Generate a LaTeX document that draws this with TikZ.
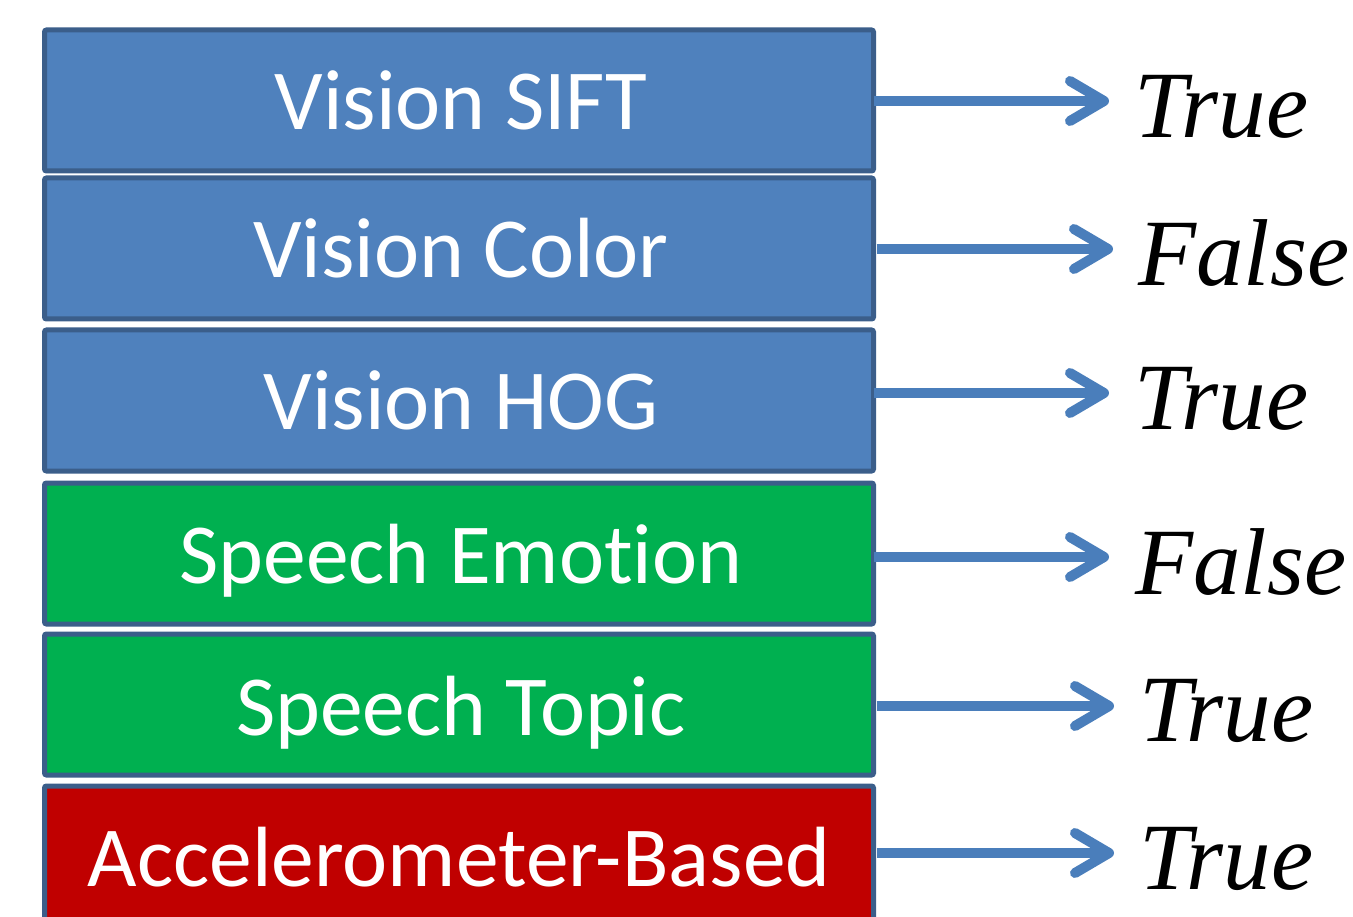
\documentclass[tikz,border=0pt]{standalone}
\usepackage{fontspec}
\setmainfont{Liberation Serif}
\newfontfamily\boxfont[Ligatures={NoCommon}]{Carlito}
\usetikzlibrary{arrows.meta}
\definecolor{visionblue}{HTML}{4F81BD}
\definecolor{speechgreen}{HTML}{00B050}
\definecolor{accelred}{HTML}{C00000}
\definecolor{boxedge}{HTML}{3B5E8A}
\definecolor{arrowblue}{HTML}{4A7EBB}
\tikzset{
  module/.style={draw=boxedge, line width=5pt, rounded corners=2pt,
    minimum width=829pt, minimum height=141pt, inner sep=0pt, outer sep=0pt},
  modtext/.style={text=white, font=\boxfont\fontsize{85.5}{85.5}\selectfont, anchor=base},
  verdict/.style={font=\itshape\fontsize{95}{95}\selectfont, anchor=base west, inner sep=0pt},
  outarrow/.style={draw=arrowblue, line width=10pt,
    -{Straight Barb[length=34pt, width=40pt, round]}},
}
\begin{document}
\begin{tikzpicture}[x=1pt, y=-1pt]
\useasboundingbox (0,0) rectangle (1353,917);
% stacked classifier boxes (centre y of each box)
\node[module, fill=visionblue]  (b1) at (459,100.5) {};
\node[module, fill=visionblue]  (b2) at (459,248.5) {};
\node[module, fill=visionblue]  (b3) at (459,400.5) {};
\node[module, fill=speechgreen] (b4) at (459,553.5) {};
\node[module, fill=speechgreen] (b5) at (459,704.5) {};
\node[module, fill=accelred]    (b6) at (459,856.5) {};
% box captions
\node[modtext] (c1) at (461,130) {Vision SIFT};
\node[modtext] (c2) at (461,278) {Vision Color};
\node[modtext] (c3) at (461,430) {Vision HOG};
\node[modtext] (c4) at (461,583) {Speech Emotion};
\node[modtext] (c5) at (461,735) {Speech Topic};
\node[modtext] (c6) at (459,886) {Accelerometer-Based};
% outputs
\node[verdict] (v1) at (1134,138) {True};
\node[verdict] (v2) at (1138,286) {False};
\node[verdict] (v3) at (1134,430) {True};
\node[verdict] (v4) at (1135,594) {False};
\node[verdict] (v5) at (1139,741) {True};
\node[verdict] (v6) at (1139,889) {True};
% arrow tips
\coordinate (a1) at (1109,101);
\coordinate (a2) at (1113,249);
\coordinate (a3) at (1109,393);
\coordinate (a4) at (1109,557);
\coordinate (a5) at (1114,706);
\coordinate (a6) at (1114,853);
\draw[outarrow] (b1.east |- a1) -- (a1);
\draw[outarrow] ([xshift=3pt]b2.east |- a2) -- (a2);
\draw[outarrow] (b3.east |- a3) -- (a3);
\draw[outarrow] (b4.east |- a4) -- (a4);
\draw[outarrow] ([xshift=3pt]b5.east |- a5) -- (a5);
\draw[outarrow] ([xshift=3pt]b6.east |- a6) -- (a6);
\end{tikzpicture}
\end{document}
